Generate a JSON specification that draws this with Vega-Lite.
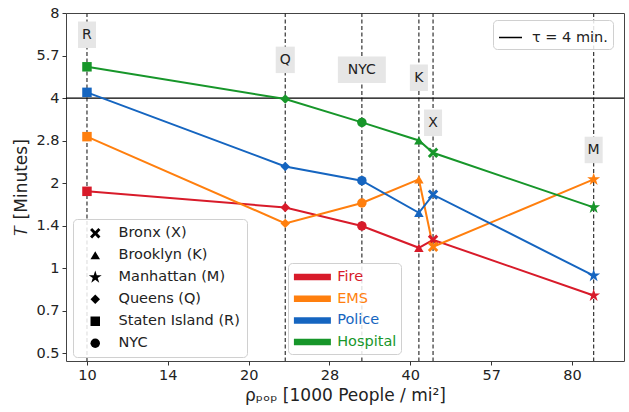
{
  "$schema": "https://vega.github.io/schema/vega-lite/v6.json",
  "width": 558,
  "height": 348,
  "autosize": {"type": "none"},
  "padding": {"left": 66, "top": 13, "right": 5, "bottom": 51},
  "config": {
    "font": "DejaVu Sans",
    "view": {"stroke": "#444", "strokeWidth": 1},
    "axis": {
      "grid": false,
      "domain": false,
      "tickColor": "#333",
      "tickSize": 4,
      "labelFontSize": 14.5,
      "labelColor": "#222",
      "titleFontSize": 17,
      "titleFontWeight": "normal",
      "titleColor": "#222"
    },
    "legend": {
      "labelFont": "DejaVu Sans",
      "labelFontSize": 14.5,
      "labelColor": "#222",
      "strokeColor": "#d0d0d0",
      "fillColor": "rgba(255,255,255,0.85)",
      "cornerRadius": 4
    }
  },
  "datasets": {
    "times": [
      {"borough": "Staten Island (R)", "service": "Fire", "density": 10.0, "T": 1.87},
      {"borough": "Queens (Q)", "service": "Fire", "density": 23.4, "T": 1.64},
      {"borough": "NYC", "service": "Fire", "density": 32.5, "T": 1.41},
      {"borough": "Brooklyn (K)", "service": "Fire", "density": 41.5, "T": 1.18},
      {"borough": "Bronx (X)", "service": "Fire", "density": 44.1, "T": 1.26},
      {"borough": "Manhattan (M)", "service": "Fire", "density": 87.8, "T": 0.8},
      {"borough": "Staten Island (R)", "service": "EMS", "density": 10.0, "T": 2.92},
      {"borough": "Queens (Q)", "service": "EMS", "density": 23.4, "T": 1.44},
      {"borough": "NYC", "service": "EMS", "density": 32.5, "T": 1.7},
      {"borough": "Brooklyn (K)", "service": "EMS", "density": 41.5, "T": 2.06},
      {"borough": "Bronx (X)", "service": "EMS", "density": 44.1, "T": 1.19},
      {"borough": "Manhattan (M)", "service": "EMS", "density": 87.8, "T": 2.06},
      {"borough": "Staten Island (R)", "service": "Police", "density": 10.0, "T": 4.19},
      {"borough": "Queens (Q)", "service": "Police", "density": 23.4, "T": 2.29},
      {"borough": "NYC", "service": "Police", "density": 32.5, "T": 2.04},
      {"borough": "Brooklyn (K)", "service": "Police", "density": 41.5, "T": 1.57},
      {"borough": "Bronx (X)", "service": "Police", "density": 44.1, "T": 1.82},
      {"borough": "Manhattan (M)", "service": "Police", "density": 87.8, "T": 0.94},
      {"borough": "Staten Island (R)", "service": "Hospital", "density": 10.0, "T": 5.16},
      {"borough": "Queens (Q)", "service": "Hospital", "density": 23.4, "T": 3.97},
      {"borough": "NYC", "service": "Hospital", "density": 32.5, "T": 3.28},
      {"borough": "Brooklyn (K)", "service": "Hospital", "density": 41.5, "T": 2.83},
      {"borough": "Bronx (X)", "service": "Hospital", "density": 44.1, "T": 2.56},
      {"borough": "Manhattan (M)", "service": "Hospital", "density": 87.8, "T": 1.64}
    ],
    "boroughs": [
      {"label": "R", "density": 10.0, "labelT": 6.7},
      {"label": "Q", "density": 23.4, "labelT": 5.46},
      {"label": "NYC", "density": 32.5, "labelT": 5.04},
      {"label": "K", "density": 41.5, "labelT": 4.72},
      {"label": "X", "density": 44.1, "labelT": 3.27},
      {"label": "M", "density": 87.8, "labelT": 2.62}
    ],
    "tau": [{"tau": "τ = 4 min.", "T": 4}]
  },
  "layer": [
    {
      "data": {"name": "boroughs"},
      "mark": {"type": "rule", "color": "#333", "strokeWidth": 1.2, "strokeDash": [4, 2.5]},
      "encoding": {
        "x": {"field": "density", "type": "quantitative", "scale": {"type": "log", "domain": [9.14, 100], "nice": false, "zero": false}}
      }
    },
    {
      "data": {"name": "tau"},
      "mark": {"type": "rule", "color": "black", "strokeWidth": 1.3},
      "encoding": {
        "y": {"field": "T", "type": "quantitative", "scale": {"type": "log", "domain": [0.469, 8], "nice": false, "zero": false}},
        "strokeDash": {
          "field": "tau", "type": "nominal",
          "scale": {"range": [[1, 0]]},
          "legend": {
            "orient": "none", "legendX": 427, "legendY": 7, "title": null,
            "symbolType": "stroke", "symbolSize": 529, "symbolStrokeWidth": 1.3,
            "symbolStrokeColor": "black", "padding": 5, "labelOffset": 9
          }
        }
      }
    },
    {
      "data": {"name": "boroughs"},
      "mark": {"type": "point", "filled": true, "fill": "#e6e6e6", "opacity": 1, "size": 702, "strokeWidth": 0},
      "encoding": {
        "x": {"field": "density", "type": "quantitative"},
        "y": {"field": "labelT", "type": "quantitative"},
        "shape": {
          "field": "label", "type": "nominal", "legend": null,
          "scale": {
            "domain": ["R", "Q", "NYC", "K", "X", "M"],
            "range": [
              "M-0.68,-1L0.68,-1L0.68,1L-0.68,1Z",
              "M-0.72,-1L0.72,-1L0.72,1L-0.72,1Z",
              "M-1.81,-1L1.81,-1L1.81,1L-1.81,1Z",
              "M-0.68,-1L0.68,-1L0.68,1L-0.68,1Z",
              "M-0.68,-1L0.68,-1L0.68,1L-0.68,1Z",
              "M-0.68,-1L0.68,-1L0.68,1L-0.68,1Z"
            ]
          }
        }
      }
    },
    {
      "data": {"name": "boroughs"},
      "mark": {"type": "text", "fontSize": 14, "color": "#222", "align": "center", "baseline": "middle"},
      "encoding": {
        "x": {"field": "density", "type": "quantitative"},
        "y": {"field": "labelT", "type": "quantitative"},
        "text": {"field": "label", "type": "nominal"}
      }
    },
    {
      "data": {"name": "times"},
      "mark": {"type": "line", "strokeWidth": 2},
      "encoding": {
        "x": {
          "field": "density", "type": "quantitative",
          "title": "ρₚₒₚ [1000 People / mi²]",
          "axis": {"values": [10, 14.142, 20, 28.284, 40, 56.569, 80], "format": ".0f", "labelPadding": 3, "titlePadding": 6}
        },
        "y": {
          "field": "T", "type": "quantitative",
          "title": "𝑇 [Minutes]",
          "axis": {"values": [0.5, 0.7071, 1, 1.4142, 2, 2.8284, 4, 5.6569, 8], "format": ".1~f", "labelPadding": 3, "titlePadding": 5}
        },
        "color": {
          "field": "service", "type": "nominal",
          "scale": {"domain": ["Fire", "EMS", "Police", "Hospital"], "range": ["#d81b2a", "#ff7f0e", "#1565c0", "#17962a"]},
          "legend": {
            "orient": "none", "legendX": 222, "legendY": 250, "title": null,
            "symbolType": "M-3.16,0L3.16,0", "symbolSize": 137, "symbolStrokeWidth": 6.5,
            "rowPadding": 5.7, "padding": 4.5, "symbolOffset": 10.4, "labelOffset": 15.3,
            "encode": {
              "labels": {"update": {"fill": {"scale": "color", "field": "value"}}},
              "symbols": {"update": {"stroke": {"scale": "color", "field": "value"}, "fill": {"value": "transparent"}, "strokeJoin": {"value": "round"}}}
            }
          }
        }
      }
    },
    {
      "data": {"name": "times"},
      "mark": {"type": "point", "filled": true, "opacity": 1, "size": 90, "strokeWidth": 0},
      "encoding": {
        "x": {"field": "density", "type": "quantitative"},
        "y": {"field": "T", "type": "quantitative"},
        "color": {"field": "service", "type": "nominal"},
        "shape": {
          "field": "borough", "type": "nominal",
          "scale": {
            "domain": ["Bronx (X)", "Brooklyn (K)", "Manhattan (M)", "Queens (Q)", "Staten Island (R)", "NYC"],
            "range": [
              "M-0.66,-1.1L0,-0.44L0.66,-1.1L1.1,-0.66L0.44,0L1.1,0.66L0.66,1.1L0,0.44L-0.66,1.1L-1.1,0.66L-0.44,0L-1.1,-0.66Z",
              "triangle-up",
              "M0,-1.4L0.32,-0.44L1.36,-0.44L0.52,0.17L0.84,1.16L0,0.55L-0.84,1.16L-0.52,0.17L-1.36,-0.44L-0.32,-0.44Z",
              "diamond",
              "square",
              "circle"
            ]
          },
          "legend": {
            "orient": "none", "legendX": 7, "legendY": 206, "title": null,
            "symbolFillColor": "black", "symbolStrokeColor": "black", "symbolStrokeWidth": 0,
            "symbolSize": 90, "rowPadding": 7, "padding": 7, "symbolOffset": 8, "labelOffset": 16
          }
        }
      }
    }
  ],
  "resolve": {"scale": {"shape": "independent"}}
}
